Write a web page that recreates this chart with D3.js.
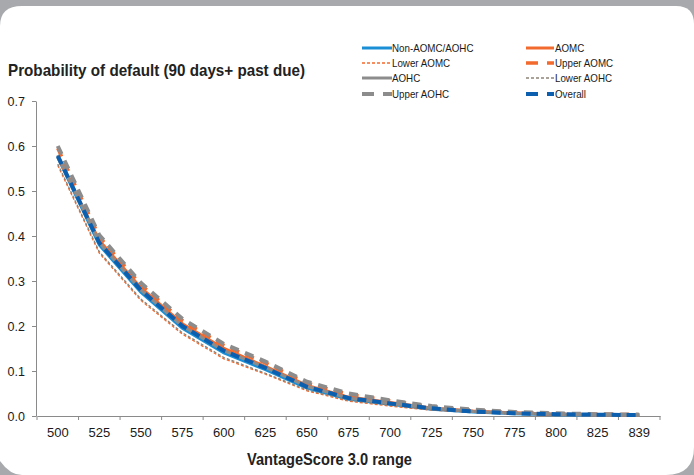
<!DOCTYPE html>
<html>
<head>
<meta charset="utf-8">
<script src="https://cdn.jsdelivr.net/npm/d3@7"></script>
<style>
  body { margin: 0; background: #a7a9ac; }
  svg { display: block; }
  text { font-family: "Liberation Sans Narrow", "Liberation Sans", Arial, sans-serif; fill: #1a1a1a; }
</style>
</head>
<body>
<script>
// categories on the x axis
var scores = ["500","525","550","575","600","625","650","675","700","725","750","775","800","825","839"];

// series values (probability of default)
var nonAomcAohc = [0.575,0.380,0.275,0.195,0.140,0.103,0.062,0.037,0.026,0.015,0.009,0.005,0.003,0.002,0.001];
var aomc        = [0.576,0.390,0.285,0.205,0.150,0.110,0.068,0.042,0.030,0.018,0.011,0.007,0.004,0.003,0.002];
var lowerAomc   = [0.557,0.362,0.257,0.182,0.127,0.093,0.056,0.033,0.022,0.013,0.008,0.004,0.002,0.001,0.001];
var upperAomc   = [0.595,0.398,0.292,0.212,0.157,0.118,0.073,0.048,0.034,0.021,0.013,0.008,0.005,0.004,0.003];
var aohc        = [0.580,0.385,0.280,0.200,0.145,0.108,0.066,0.040,0.028,0.017,0.010,0.006,0.004,0.003,0.002];
var lowerAohc   = [0.560,0.365,0.260,0.185,0.130,0.095,0.058,0.035,0.024,0.014,0.009,0.005,0.003,0.002,0.001];
var upperAohc   = [0.600,0.402,0.296,0.216,0.160,0.121,0.076,0.050,0.035,0.022,0.014,0.009,0.006,0.004,0.003];
var overall     = [0.578,0.385,0.280,0.200,0.145,0.107,0.065,0.040,0.028,0.017,0.010,0.006,0.004,0.003,0.002];

var yTicks = [0,0.1,0.2,0.3,0.4,0.5,0.6,0.7];

var series = [
  {name:"Non-AOMC/AOHC", values:nonAomcAohc, color:"#1b8fd6", width:3,   dash:null,  col:0, row:0},
  {name:"AOMC",          values:aomc,        color:"#f26a2e", width:3,   dash:null,  col:1, row:0},
  {name:"Lower AOMC",    values:lowerAomc,   color:"#f26a2e", width:1.3, dash:"3,2", col:0, row:1},
  {name:"Upper AOMC",    values:upperAomc,   color:"#f26a2e", width:3.5, dash:"9,7", col:1, row:1},
  {name:"AOHC",          values:aohc,        color:"#8c8c8c", width:3,   dash:null,  col:0, row:2},
  {name:"Lower AOHC",    values:lowerAohc,   color:"#8c8478", width:1.3, dash:"3,2", col:1, row:2},
  {name:"Upper AOHC",    values:upperAohc,   color:"#8c8c8c", width:4,   dash:"9,7", col:0, row:3},
  {name:"Overall",       values:overall,     color:"#0b5fae", width:4,   dash:"9,6", col:1, row:3}
];

var W = 694, H = 475;
var svg = d3.select("body").append("svg")
  .attr("width", W)
  .attr("height", H);

// white rounded panel on grey backdrop
svg.append("path")
  .attr("fill", "#ffffff")
  .attr("d", "M0,26 Q0,6 22,6 L676,6 Q694,6 694,24 L694,447 Q694,475 666,475 L22,475 Q10,475 0,461 Z");

var x = d3.scaleBand().domain(scores).range([37, 660]).padding(0);
var y = d3.scaleLinear().domain([0, 0.7]).range([416, 101]);

// y axis
var yAxis = svg.append("g")
  .attr("transform", "translate(36,0)")
  .call(d3.axisLeft(y).tickValues(yTicks).tickFormat(d3.format(".1f")).tickSize(4).tickSizeOuter(0).tickPadding(7));
yAxis.select(".domain").attr("stroke", "#8a8a8a");
yAxis.selectAll(".tick line").attr("stroke", "#8a8a8a");
yAxis.selectAll(".tick text").style("font-size", "12.5px").style("font-family", "'Liberation Sans', Arial, sans-serif").attr("fill", "#1a1a1a");

// x axis: labels at band centres, ticks at band edges
var xAxis = svg.append("g")
  .attr("transform", "translate(0,416)")
  .call(d3.axisBottom(x).tickSize(0).tickPadding(12));
xAxis.select(".domain").attr("stroke", "#8a8a8a");
xAxis.selectAll(".tick text").style("font-size", "13px").style("font-family", "'Liberation Sans', Arial, sans-serif").attr("fill", "#1a1a1a");
var edges = scores.map(function(d){ return x(d); }).concat([x.range()[1]]);
svg.append("g").selectAll("line")
  .data(edges)
  .enter()
  .append("line")
  .attr("x1", function(d){ return d; })
  .attr("x2", function(d){ return d; })
  .attr("y1", 416)
  .attr("y2", 420)
  .attr("stroke", "#8a8a8a");

// lines
var line = d3.line()
  .x(function(d, i){ return x(scores[i]) + x.bandwidth() / 2; })
  .y(function(d){ return y(d); });

svg.append("g").selectAll("path")
  .data(series)
  .enter()
  .append("path")
  .attr("fill", "none")
  .attr("stroke", function(d){ return d.color; })
  .attr("stroke-width", function(d){ return d.width; })
  .attr("stroke-dasharray", function(d){ return d.dash; })
  .attr("d", function(d){ return line(d.values); });

// titles
svg.append("text")
  .attr("x", 8)
  .attr("y", 76)
  .attr("textLength", 297)
  .attr("lengthAdjust", "spacingAndGlyphs")
  .style("font-size", "16.5px")
  .style("font-weight", "bold")
  .style("fill", "#222")
  .text("Probability of default (90 days+ past due)");

svg.append("text")
  .attr("x", 247)
  .attr("y", 465)
  .attr("textLength", 165)
  .attr("lengthAdjust", "spacingAndGlyphs")
  .style("font-size", "16.5px")
  .style("font-weight", "bold")
  .style("fill", "#222")
  .text("VantageScore 3.0 range");

// legend
var colX = [362, 526];
var rowY = [48, 63, 78, 94];
var leg = svg.append("g").selectAll("g")
  .data(series)
  .enter()
  .append("g")
  .attr("transform", function(d){ return "translate(" + colX[d.col] + "," + rowY[d.row] + ")"; });

leg.append("line")
  .attr("x1", 0)
  .attr("x2", function(d){ return d.col === 0 ? 30 : 28; })
  .attr("stroke", function(d){ return d.color; })
  .attr("stroke-width", function(d){ return d.width; })
  .attr("stroke-dasharray", function(d){ return d.dash === null ? null : (d.width > 2 ? "12,9" : "3,2"); });

leg.append("text")
  .attr("x", function(d){ return d.col === 0 ? 30 : 29; })
  .attr("y", 4)
  .style("font-size", "11.5px")
  .text(function(d){ return d.name; })
  .each(function(){
    // condensed look of the original face
    var w = this.getComputedTextLength();
    d3.select(this).attr("textLength", w * 0.85).attr("lengthAdjust", "spacingAndGlyphs");
  });
</script>
</body>
</html>
